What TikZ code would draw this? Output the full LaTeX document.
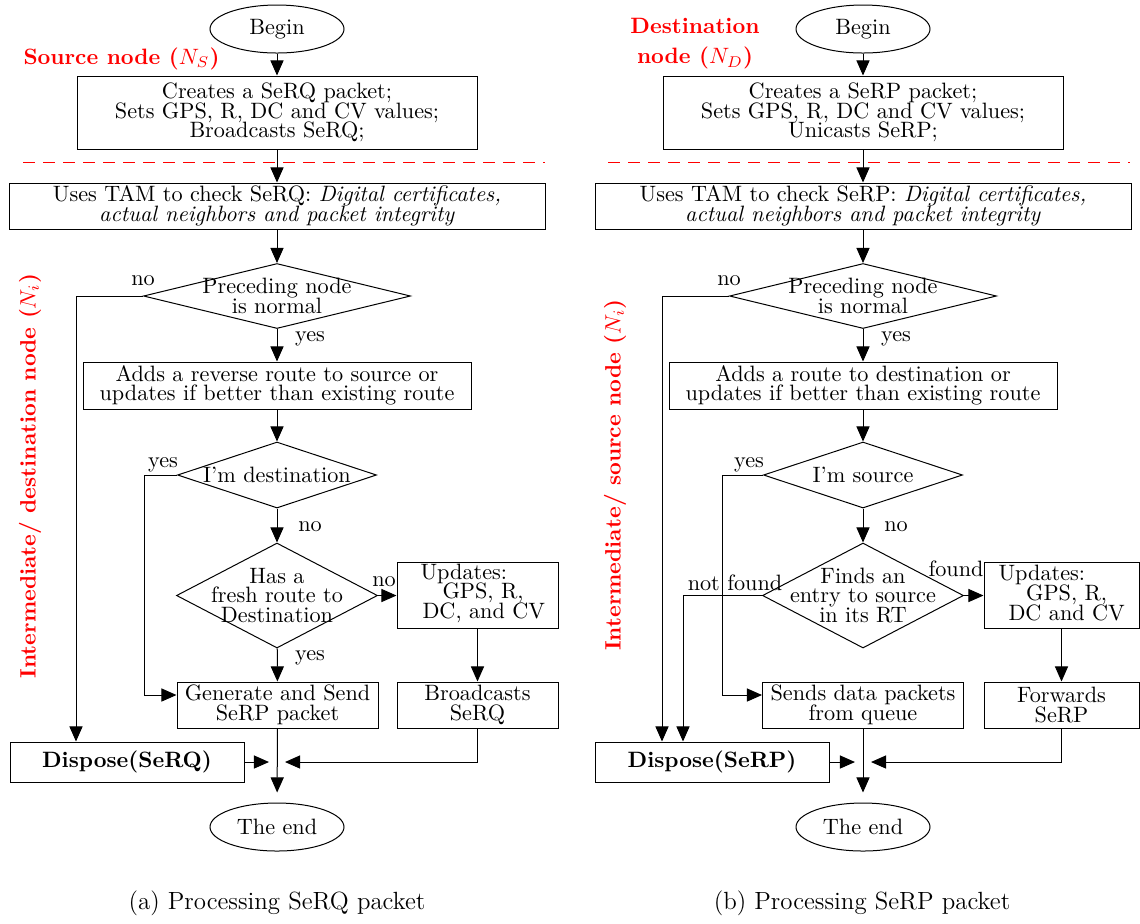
\documentclass[tikz,border=0pt]{standalone}
\usetikzlibrary{shapes.geometric,arrows.meta}
\lineskiplimit=-20pt
\begin{document}
\begin{tikzpicture}[x=0.45pt,y=-0.45pt,line width=0.45pt,
  every node/.style={font=\fontsize{10}{8.8}\selectfont},
  wh/.style 2 args={minimum width=#1*0.45pt, minimum height=#2*0.45pt},
  box/.style={draw, rectangle, inner sep=0pt, align=center},
  term/.style={draw, ellipse, inner sep=0pt, align=center},
  dia/.style={draw, diamond, inner sep=0pt},
  txt/.style={inner sep=0pt, align=center},
  captxt/.style={inner sep=0pt, font=\fontsize{11.2}{13}\selectfont},
  lbl/.style={inner sep=0pt},
  redlbl/.style={red, inner sep=0pt, align=center, font=\fontsize{10}{13.8}\selectfont\bfseries},
  arr/.style={-{Triangle[length=6.8pt,width=5.9pt]}},
  sepline/.style={red, dash pattern=on 5.5pt off 3.5pt}]
\useasboundingbox (0,0) rectangle (1140,923);

% ---------------- left chart ----------------
\node[term, wh={134}{48}] (bL) at (277,29) {Begin};
\node[redlbl, anchor=west] (sL) at (23,59) {Source node ($N_S$)};
\node[box, wh={400}{73}] (p1L) at (277,112.5) {Creates a SeRQ packet;\\Sets GPS, R, DC and CV values;\\Broadcasts SeRQ;};
\draw[sepline] (23,162) -- (545,162);
\node[box, wh={536}{46}] (tL) at (277,206) {Uses TAM to check SeRQ: \textit{Digital certificates,}\\\textit{actual neighbors and packet integrity}};
\node[dia, wh={267}{65}] (d1L) at (277,296) {};
\node[txt] at (d1L) {Preceding node\\is normal};
\node[box, wh={388}{47}] (p2L) at (277,385.5) {Adds a reverse route to source or\\updates if better than existing route};
\node[dia, wh={199}{66}] (d2L) at (277,475) {};
\node[txt] at (d2L) {I'm destination};
\node[dia, wh={201}{105}] (d3L) at (277,595.5) {};
\node[txt] at (d3L) {Has a\\fresh route to\\Destination};
\node[box, wh={161}{66}] (uL) at (477.5,595.5) {};
\node[txt, anchor=west, align=left] at (420,593) {Updates:\\\hspace*{9.9pt}GPS, R,\\\hspace*{0.9pt}DC, and CV};
\node[box, wh={201}{46}] (gL) at (277.5,705) {Generate and Send\\SeRP packet};
\node[box, wh={161}{46}] (brL) at (477.5,705) {Broadcasts\\SeRQ};
\node[box, wh={234}{40}, font=\fontsize{10}{8.8}\selectfont\bfseries] (xL) at (127,762) {Dispose(SeRQ)};
\node[term, wh={134}{48}] (eL) at (277,827) {The end};
\coordinate (mL) at (277,762);
\coordinate (nL) at (76,296);
\coordinate (yL) at (144,475);
\node[redlbl, rotate=90] at (30,476) {Intermediate/ destination node ($N_i$)};
\node[captxt] at (277,903) {(a) Processing SeRQ packet};

\draw[arr] (bL) -- (p1L);
\draw[arr] (p1L) -- (tL);
\draw[arr] (tL) -- (d1L);
\draw[arr] (d1L) -- (p2L);
\draw[arr] (p2L) -- (d2L);
\draw[arr] (d2L) -- (d3L);
\draw[arr] (d3L.east) -- (uL.west |- d3L.east);
\draw[arr] (uL) -- (brL);
\draw[arr] (d3L) -- (gL);
\draw[arr] (d1L.west) -- (nL) -- (nL |- xL.north);
\draw[arr] (d2L.west) -- (yL) |- ([yshift=4.5pt]gL.west);
\draw[arr, shorten >=4.5pt] (gL) -- (eL);
\draw[arr] (xL) -- ([xshift=-3.6pt]mL);
\draw[arr] (brL) |- ([xshift=3.6pt]mL);

\node[lbl] at (143,281) {no};
\node[lbl] at (310,339) {yes};
\node[lbl] at (163,465) {yes};
\node[lbl] at (310,527) {no};
\node[lbl] at (384,582) {no};
\node[lbl] at (310,658) {yes};

% ---------------- right chart ----------------
\node[term, wh={134}{48}] (bR) at (863,29) {Begin};
\node[redlbl] (sR0) at (695,43.5) {Destination\\node ($N_D$)};
\node[box, wh={400}{73}] (p1R) at (863,112.5) {Creates a SeRP packet;\\Sets GPS, R, DC and CV values;\\Unicasts SeRP;};
\draw[sepline] (608,162) -- (1130,162);
\node[box, wh={536}{46}] (tR) at (863,206) {Uses TAM to check SeRP: \textit{Digital certificates,}\\\textit{actual neighbors and packet integrity}};
\node[dia, wh={267}{65}] (d1R) at (863,296) {};
\node[txt] at (d1R) {Preceding node\\is normal};
\node[box, wh={388}{47}] (p2R) at (863,385.5) {Adds a route to destination or\\updates if better than existing route};
\node[dia, wh={199}{66}] (d2R) at (863,475) {};
\node[txt] at (d2R) {I'm source};
\node[dia, wh={201}{105}] (d3R) at (863,595.5) {};
\node[txt] at (d3R) {Finds an\\entry to source\\in its RT};
\node[box, wh={155}{66}] (uR) at (1061.5,595.5) {};
\node[txt, anchor=west, align=left] at (998,593) {Updates:\\\hspace*{12.4pt}GPS, R,\\\hspace*{4.5pt}DC and CV};
\node[box, wh={201}{46}] (gR) at (863,705) {Sends data packets\\from queue};
\node[box, wh={155}{46}] (fR) at (1061.5,705) {Forwards\\SeRP};
\node[box, wh={234}{40}, font=\fontsize{10}{8.8}\selectfont\bfseries] (xR) at (712,762) {Dispose(SeRP)};
\node[term, wh={134}{48}] (eR) at (863,827) {The end};
\coordinate (mR) at (863,762);
\coordinate (nR) at (662,296);
\coordinate (yR) at (722,475);
\coordinate (fnR) at (683,595.5);
\node[redlbl, rotate=90] at (615,475) {Intermediate/ source node ($N_i$)};
\node[captxt] at (862,903) {(b) Processing SeRP packet};

\draw[arr] (bR) -- (p1R);
\draw[arr] (p1R) -- (tR);
\draw[arr] (tR) -- (d1R);
\draw[arr] (d1R) -- (p2R);
\draw[arr] (p2R) -- (d2R);
\draw[arr] (d2R) -- (d3R);
\draw[arr] (d3R.east) -- (uR.west |- d3R.east);
\draw[arr] (uR) -- (fR);
\draw[arr] (d1R.west) -- (nR) -- (nR |- xR.north);
\draw[arr] (d3R.west) -- (fnR) -- (fnR |- xR.north);
\draw[arr] (d2R.west) -- (yR) |- ([yshift=4.5pt]gR.west);
\draw[arr, shorten >=4.5pt] (gR) -- (eR);
\draw[arr] (xR) -- ([xshift=-3.6pt]mR);
\draw[arr] (fR) |- ([xshift=3.6pt]mR);

\node[lbl] at (729,281) {no};
\node[lbl] at (896,339) {yes};
\node[lbl] at (749,465) {yes};
\node[lbl] at (896,527) {no};
\node[lbl] at (956,569) {found};
\node[lbl] at (735,583) {not found};
\end{tikzpicture}
\end{document}
